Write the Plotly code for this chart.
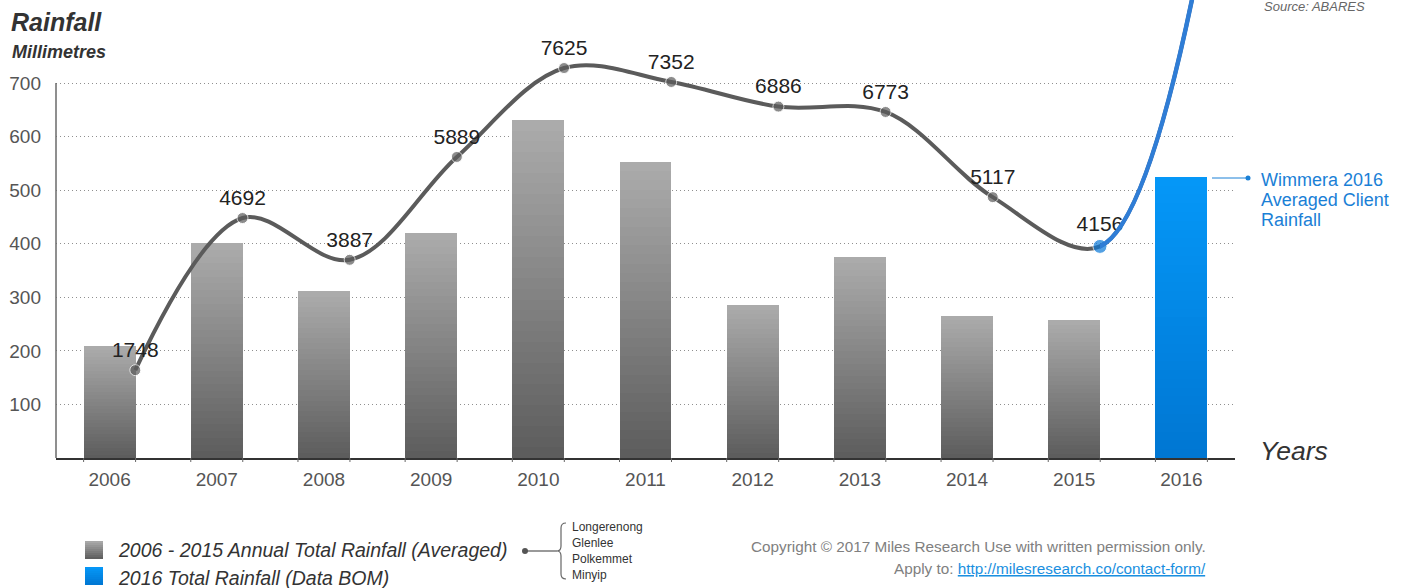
import plotly.graph_objects as go

# ---------------- data ----------------
years = [2006, 2007, 2008, 2009, 2010, 2011, 2012, 2013, 2014, 2015, 2016]
bar_values = [209, 401, 311, 420, 631, 553, 286, 375, 266, 257, 525]
line_years = [2006, 2007, 2008, 2009, 2010, 2011, 2012, 2013, 2014, 2015]
line_values = [164, 448, 370, 562, 728, 702, 656, 646, 487, 395]
line_labels = ["1748", "4692", "3887", "5889", "7625", "7352", "6886", "6773", "5117", "4156"]
trend_end_year = 2016
trend_end_value = 1000  # continuation of the curve, leaves the chart at the top
y_ticks = [100, 200, 300, 400, 500, 600, 700]
towns = ["Longerenong", "Glenlee", "Polkemmet", "Minyip"]

# ---------------- geometry ----------------
W, H = 1416, 588
ML, MR, MT, MB = 56, 181, 0, 130
PW, PH = W - ML - MR, H - MT - MB
X0, X1 = 2005.5, 2016.5
Y_TOP = 855
BAR_W = 0.485
LINE_OFF = 0.24
FONT = "Liberation Sans, Arial, sans-serif"


def px(x):
    return (x - ML) / PW


def py(y):
    return (MT + PH - y) / PH


def lerp(c0, c1, t):
    return "#%02x%02x%02x" % tuple(round(a + (b - a) * t) for a, b in zip(c0, c1))


GRAY_TOP, GRAY_BOT = (0xAC, 0xAC, 0xAC), (0x5C, 0x5C, 0x5C)
BLUE_TOP, BLUE_BOT = (0x05, 0x98, 0xF8), (0x00, 0x76, 0xD2)

fig = go.Figure()

# gradient bars: each bar split into thin slices coloured from bottom (dark) to top (light)
N = 32
for k in range(N):
    t = (k + 0.5) / N
    colors = [lerp(BLUE_BOT, BLUE_TOP, t) if yr == 2016 else lerp(GRAY_BOT, GRAY_TOP, t) for yr in years]
    fig.add_trace(go.Bar(
        x=years, y=[v / N for v in bar_values], base=[v * k / N for v in bar_values],
        width=BAR_W, marker=dict(color=colors, line=dict(width=0)),
        showlegend=False, hoverinfo="skip",
    ))

lx = [y + LINE_OFF for y in line_years] + [trend_end_year + LINE_OFF]
ly = line_values + [trend_end_value]

# gray smooth curve
fig.add_trace(go.Scatter(
    x=lx, y=ly, mode="lines", line=dict(color="#5b5b5b", width=4, shape="spline", smoothing=1),
    showlegend=False, hoverinfo="skip",
))

# markers + labels
mcolors = ["#5b5b5b"] * (len(line_years) - 1) + ["#0a78d8"]
msizes = [11] * (len(line_years) - 1) + [14]
fig.add_trace(go.Scatter(
    x=lx[:-1], y=line_values, mode="markers+text", text=line_labels,
    textposition="top center", textfont=dict(family=FONT, size=21, color="#222222"),
    marker=dict(color=mcolors, size=msizes), showlegend=False, hoverinfo="skip",
    cliponaxis=False,
))

# blue continuation: same curve drawn on an axis that only shows x >= 2015 point
d0 = (line_years[-1] + LINE_OFF - X0) / (X1 - X0)
fig.add_trace(go.Scatter(
    x=lx, y=ly, mode="lines", line=dict(color="#2f7dd6", width=4.5, shape="spline", smoothing=1),
    xaxis="x2", yaxis="y2", showlegend=False, hoverinfo="skip",
))

fig.update_layout(
    width=W, height=H,
    margin=dict(l=ML, r=MR, t=MT, b=MB, pad=0),
    paper_bgcolor="white", plot_bgcolor="rgba(0,0,0,0)",
    barmode="overlay", bargap=0,
    font=dict(family=FONT, color="#555555"),
    xaxis=dict(
        range=[X0, X1], tickmode="array", tickvals=years, ticktext=[str(y) for y in years],
        ticks="", showgrid=False, zeroline=False, showline=True, linecolor="#333333", linewidth=1.5,
        tickfont=dict(family=FONT, size=19, color="#555555"), ticklabelstandoff=3,
        fixedrange=True,
    ),
    yaxis=dict(
        range=[0, Y_TOP], tickmode="array", tickvals=y_ticks, ticks="",
        showgrid=True, gridcolor="#8f8f8f", griddash="1px,3px", gridwidth=1,
        zeroline=False, showline=False,
        tickfont=dict(family=FONT, size=19, color="#555555"), ticklabelstandoff=14,
        fixedrange=True,
    ),
    xaxis2=dict(domain=[d0, 1], range=[line_years[-1] + LINE_OFF, X1], anchor="y2",
                visible=False, showgrid=False, zeroline=False, fixedrange=True),
    yaxis2=dict(domain=[0, 1], range=[0, Y_TOP], anchor="x2",
                visible=False, showgrid=False, zeroline=False, fixedrange=True),
    showlegend=False,
)

shapes = []
# y axis line (0 to 700 only)
shapes.append(dict(type="line", xref="paper", yref="y", x0=0, x1=0, y0=0, y1=y_ticks[-1],
                   line=dict(color="#6a6a6a", width=1.5)))
# small x ticks at the bar edges
for yr in years:
    for e in (yr - BAR_W / 2, yr + BAR_W / 2):
        shapes.append(dict(type="line", xref="x", yref="paper", x0=e, x1=e, y0=0, y1=-4 / PH,
                           line=dict(color="#666666", width=1)))
# callout for 2016 bar
shapes.append(dict(type="line", xref="paper", yref="paper", x0=px(1212), x1=px(1248), y0=py(178), y1=py(178),
                   line=dict(color="#1a80d6", width=1)))
shapes.append(dict(type="circle", xref="paper", yref="paper", x0=px(1245.5), x1=px(1250.5), y0=py(175.5), y1=py(180.5),
                   fillcolor="#1a80d6", line=dict(width=0)))
# legend connector + brace
shapes.append(dict(type="circle", xref="paper", yref="paper", x0=px(522), x1=px(528), y0=py(548), y1=py(554),
                   fillcolor="#555555", line=dict(width=0)))
shapes.append(dict(type="line", xref="paper", yref="paper", x0=px(525), x1=px(557), y0=py(551), y1=py(551),
                   line=dict(color="#555555", width=1.2)))
brace_pts = [("M", 566, 523), ("Q", 561, 523, 561, 528), ("L", 561, 546), ("Q", 561, 551, 557, 551),
             ("Q", 561, 551, 561, 556), ("L", 561, 574), ("Q", 561, 579, 566, 579)]
path = ""
for p in brace_pts:
    cmd, vals = p[0], p[1:]
    coords = []
    for i in range(0, len(vals), 2):
        coords.append("%.5f,%.5f" % (px(vals[i]), py(vals[i + 1])))
    path += cmd + " ".join(coords) + " "
shapes.append(dict(type="path", xref="paper", yref="paper", path=path.strip(),
                   line=dict(color="#666666", width=1.2)))
# legend swatches (gradient strips, slightly overlapping)
S = 9
for k in range(S):
    t = (k + 0.5) / S
    for top, c_top, c_bot in ((541, GRAY_TOP, GRAY_BOT), (567, BLUE_TOP, BLUE_BOT)):
        y_hi = top + 18 * k / S
        y_lo = min(top + 18 * (k + 1) / S + 1, top + 18)
        shapes.append(dict(type="rect", xref="paper", yref="paper", x0=px(85), x1=px(103),
                           y0=py(y_lo), y1=py(y_hi), fillcolor=lerp(c_top, c_bot, t), line=dict(width=0),
                           layer="above"))
fig.update_layout(shapes=shapes)


def ann(text, x, y, size, color, xanchor="left", yanchor="middle"):
    fig.add_annotation(text=text, xref="paper", yref="paper", x=px(x), y=py(y), showarrow=False,
                       xanchor=xanchor, yanchor=yanchor, font=dict(family=FONT, size=size, color=color))


ann("<b><i>Rainfall</i></b>", 9, 22, 25, "#333333")
ann("<b><i>Millimetres</i></b>", 10, 52, 18, "#333333")
ann("<i>Source: ABARES</i>", 1262, 7, 13, "#666666")
ann("<i>Years</i>", 1258, 451, 26.5, "#333333")
for i, line in enumerate(["Wimmera 2016", "Averaged Client", "Rainfall"]):
    ann(line, 1259, 180 + 20 * i, 18, "#1a80d6")
ann("<i>2006 - 2015 Annual Total Rainfall (Averaged)</i>", 116, 550, 19.5, "#333333")
ann("<i>2016 Total Rainfall (Data BOM)</i>", 116, 578, 19.5, "#333333")
for i, t in enumerate(towns):
    ann(t, 570, 527 + 16 * i, 12, "#333333")
ann("Copyright © 2017 Miles Research Use with written permission only.", 1208, 546, 15.3, "#808080",
    xanchor="right")
ann('Apply to: <a href="http://milesresearch.co/contact-form/" style="color:#1a8fe0">'
    '<u>http://milesresearch.co/contact-form/</u></a>', 1208, 568, 15.3, "#808080", xanchor="right")

fig.write_html("out.html", config={"displayModeBar": False},
               post_script="document.body.style.margin='0';")
